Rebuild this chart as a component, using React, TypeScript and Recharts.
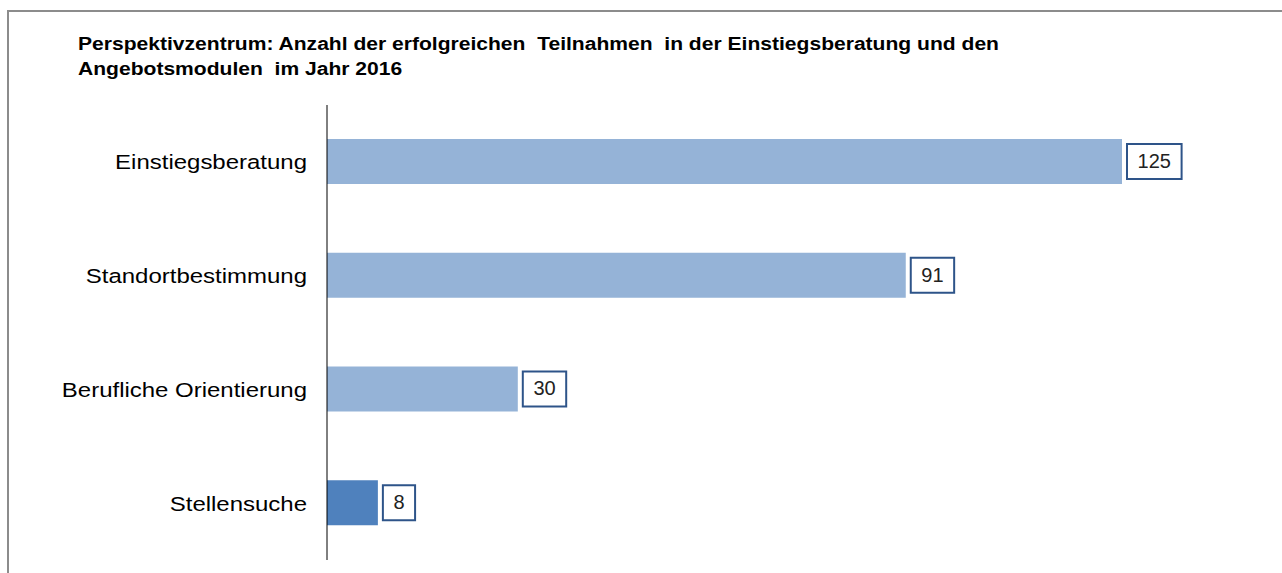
import React from "react"
import { BarChart, Bar, XAxis, YAxis, Cell, LabelList } from "recharts"

const categories = ["Einstiegsberatung", "Standortbestimmung", "Berufliche Orientierung", "Stellensuche"]
const teilnahmen = [125, 91, 30, 8]
const barColors = ["#95b3d7", "#95b3d7", "#95b3d7", "#4f81bd"]

const titleLines = [
  "Perspektivzentrum: Anzahl der erfolgreichen  Teilnahmen  in der Einstiegsberatung und den",
  "Angebotsmodulen  im Jahr 2016",
]

const data = categories.map((name, i) => ({ name, value: teilnahmen[i] }))

const FONT = "Arial, 'Liberation Sans', sans-serif"
// the source image is a little wider than tall, so the text is stretched to match
const STRETCH = 1.17

function CategoryTick(props: any) {
  const { x, y, payload } = props
  return (
    <g transform={`translate(${x},${y}) scale(${STRETCH},1)`}>
      <text x={0} y={0} dy="0.36em" textAnchor="end" fontSize={20.5} fontFamily={FONT} fill="#000">
        {payload.value}
      </text>
    </g>
  )
}

function ValueBox(props: any) {
  const { x, y, width, height, value } = props
  const text = String(value)
  const boxW = text.length * 11.2 + 21
  const boxH = 35
  const bx = x + width + 5
  const cy = y + height / 2
  return (
    <g>
      <rect x={bx} y={cy - boxH / 2} width={boxW} height={boxH} fill="#fff" stroke="#2e5489" strokeWidth={2} />
      <text x={bx + boxW / 2} y={cy + 1} textAnchor="middle" dominantBaseline="middle" fontSize={20} fontFamily={FONT} fill="#222">
        {text}
      </text>
    </g>
  )
}

export default function App() {
  return (
    <div style={{ position: "fixed", left: 0, top: 0, width: 1282, height: 573, background: "#fff", overflow: "hidden" }}>
      <div
        style={{
          position: "absolute",
          left: 7,
          top: 10,
          width: 1300,
          height: 600,
          borderTop: "2px solid #8c8c8c",
          borderLeft: "2px solid #8c8c8c",
        }}
      />
      <div
        style={{
          position: "absolute",
          left: 78,
          top: 32,
          fontFamily: FONT,
          fontWeight: "bold",
          fontSize: 18,
          lineHeight: "25px",
          color: "#000",
          whiteSpace: "pre",
          transform: `scaleX(${STRETCH})`,
          transformOrigin: "left top",
        }}
      >
        {titleLines.map((l) => (
          <div key={l}>{l}</div>
        ))}
      </div>
      <div style={{ position: "absolute", left: 0, top: 0 }}>
        <BarChart
          width={1282}
          height={573}
          data={data}
          layout="vertical"
          margin={{ top: 105, right: 1, bottom: 13, left: 0 }}
        >
          <XAxis type="number" domain={[0, 150]} hide />
          <YAxis
            type="category"
            dataKey="name"
            width={327}
            axisLine={{ stroke: "#000", strokeWidth: 1 }}
            tickLine={false}
            tickMargin={14}
            tick={<CategoryTick />}
          />
          <Bar dataKey="value" barSize={45} isAnimationActive={false}>
            {data.map((d, i) => (
              <Cell key={d.name} fill={barColors[i]} />
            ))}
            <LabelList dataKey="value" content={<ValueBox />} />
          </Bar>
        </BarChart>
      </div>
    </div>
  )
}
